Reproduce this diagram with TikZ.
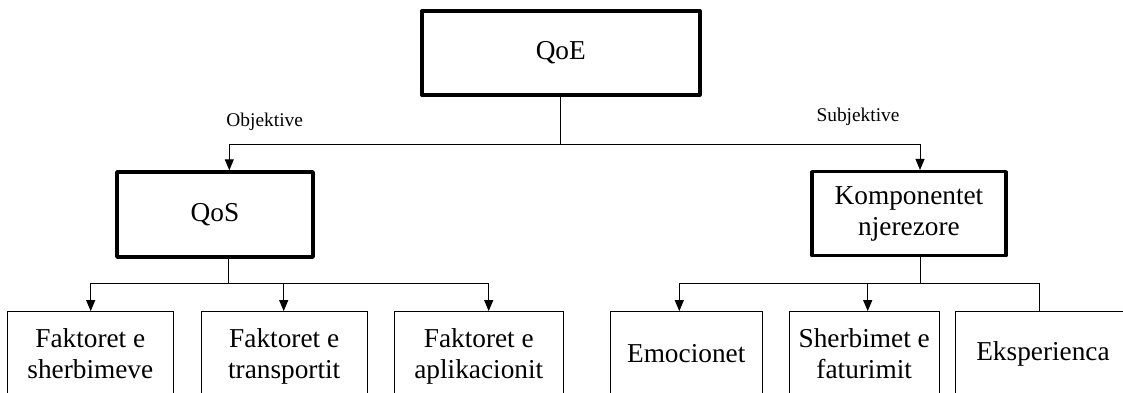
\documentclass[tikz,border=0pt]{standalone}
\usepackage{fontspec}
\setmainfont{Liberation Serif}
\usetikzlibrary{arrows.meta}
\begin{document}
\begin{tikzpicture}[x=1pt,y=-1pt,
  box/.style={draw, line width=1pt, minimum height=84pt, align=center, inner sep=0pt,
    font=\fontsize{27.3}{31.2}\selectfont},
  twoline/.style={text height=50.4pt, text depth=0pt},
  bigbox/.style={box, line width=3.5pt, line join=round},
  lbl/.style={font=\fontsize{19.4}{22}\selectfont, inner sep=0pt},
  conn/.style={line width=1pt},
  arr/.style={conn, -{Triangle[length=11pt,width=9pt]}}]
\clip (0,0) rectangle (1123,392);
\fill[white] (0,0) rectangle (1123,392);

% nodes
\node[bigbox, minimum width=278pt] (qoe) at (560.8,53) {QoE};
\node[bigbox, minimum width=196pt, minimum height=85pt] (qos) at (215,214.5) {QoS};
\node[bigbox, minimum width=194pt] (komp) at (909,213.7) {Komponentet\\njerezore};

\node[box, twoline, minimum width=166pt] (f1) at (90.3,353.6) {Faktoret e\\sherbimeve};
\node[box, twoline, minimum width=166pt] (f2) at (284.2,353.6) {Faktoret e\\transportit};
\node[box, twoline, minimum width=169pt] (f3) at (478.8,353.6) {Faktoret e\\aplikacionit};

\node[box, minimum width=152pt] (e1) at (686.2,353.6) {Emocionet};
\node[box, twoline, minimum width=150pt] (e2) at (864.2,353.6) {Sherbimet e\\faturimit};
\node[box, minimum width=174.6pt] (e3) at (1043,353.6) {Eksperienca};

\node[lbl] (lobj) at (264.7,122) {Objektive};
\node[lbl] (lsub) at (858,117) {Subjektive};

% junctions
\coordinate (b1) at (560.8,144.3);
\coordinate (b2) at (228.8,283.3);
\coordinate (b3) at (920,283.3);

% connectors
\draw[conn] (qoe.south) -- (b1);
\draw[arr] (b1) -| ([xshift=14.3pt]qos.north);
\draw[arr] (b1) -| ([xshift=11pt]komp.north);

\draw[conn] (qos.south -| b2) -- (b2);
\draw[arr] (b2) -| ([xshift=0.4pt]f1.north);
\draw[arr] (b2) -| ([xshift=-0.5pt]f2.north);
\draw[arr] (b2) -| ([xshift=9.9pt]f3.north);

\draw[conn] (komp.south -| b3) -- (b3);
\draw[arr] (b3) -| ([xshift=-6.9pt]e1.north);
\draw[arr] (b3) -| ([xshift=3.5pt]e2.north);
\draw[conn] (b3) -| ([xshift=-4pt]e3.north);
\end{tikzpicture}
\end{document}
